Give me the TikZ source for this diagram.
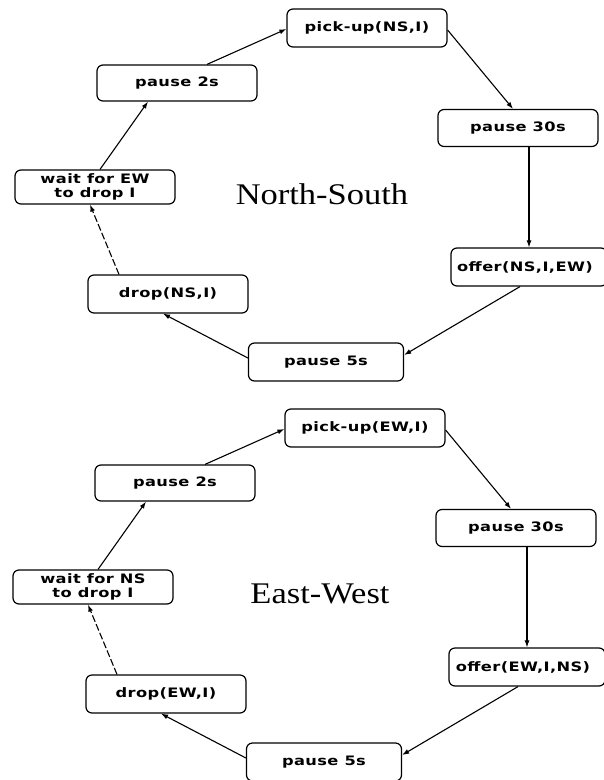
\documentclass[tikz,border=0pt]{standalone}
\usepackage{fontspec}
\setmainfont{Liberation Serif}
\newfontfamily\boxfont[FakeStretch=1.25,LetterSpace=3]{DejaVu Sans Bold}
\newfontfamily\titlefont[FakeStretch=1.15]{Liberation Serif}
\usetikzlibrary{arrows.meta}

% One signal cycle: #1 name prefix, #2 own direction, #3 other direction, #4 heading
\newcommand\lightcycle[4]{%
  \node[state] (#1pick) at (367,28) {pick-up(#2,I)};
  \node[state, minimum height=36pt] (#1pausetwo) at (177,83) {pause 2s};
  \node[state, minimum height=34pt] (#1wait) at (95,187) {wait for #3\\to drop I};
  \node[state, minimum height=37pt] (#1pausethirty) at (518,128) {pause 30s};
  \node[state, minimum width=156pt, text width=156pt] (#1offer) at (529,267) {\hspace*{-8pt}offer(#2,I,#3)};
  \node[state, minimum width=155pt] (#1pausefive) at (326,362) {pause 5s};
  \node[state] (#1drop) at (168,294) {drop(#2,I)};
  \node[heading] (#1title) at (322,194) {#4};
  \draw[flow] ([xshift=30pt]#1pausetwo.north) -- ([yshift=-1pt]#1pick.west);
  \draw[flow] ([yshift=-2pt]#1pick.east) -- ([xshift=-5pt]#1pausethirty.north);
  \draw[flow] (#1pausethirty.south -| #1offer.north) -- (#1offer.north);
  \draw[flow] ([xshift=-9pt]#1offer.south) -- ([yshift=7pt]#1pausefive.east);
  \draw[flow] ([yshift=4pt]#1pausefive.west) -- ([xshift=-5pt]#1drop.south);
  \draw[flow, dash pattern=on 7pt off 2.5pt] ([xshift=-49pt]#1drop.north) -- ([xshift=-5pt]#1wait.south);
  \draw[flow] ([xshift=5pt]#1wait.north) -- ([xshift=-29pt]#1pausetwo.south);
}

\begin{document}
\begin{tikzpicture}[x=1pt, y=-1pt,
  state/.style={draw, line width=1.2pt, rounded corners=6pt,
    minimum width=160pt, minimum height=38pt, inner sep=0pt, align=center,
    font=\boxfont\fontsize{13}{14}\selectfont},
  flow/.style={line width=1.1pt, -{Latex[length=7pt,width=5pt]}},
  heading/.style={inner sep=0pt, font=\titlefont\fontsize{30}{34}\selectfont}]
  \path[use as bounding box, clip] (0,0) rectangle (604,780);
  \lightcycle{ns}{NS}{EW}{North-South}
  \begin{scope}[shift={(-2,400)}]
    \lightcycle{ew}{EW}{NS}{East-West}
  \end{scope}
\end{tikzpicture}
\end{document}
